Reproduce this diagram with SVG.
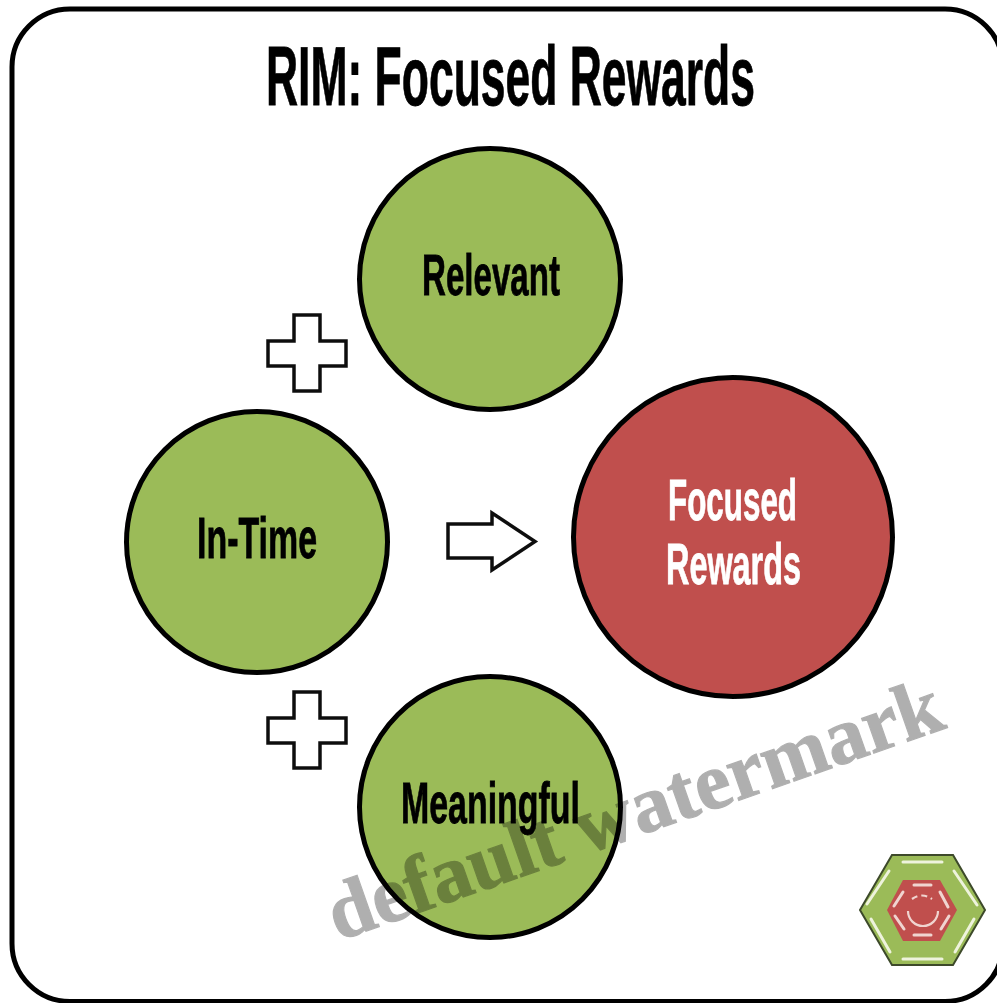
<svg xmlns="http://www.w3.org/2000/svg" width="997" height="1003" viewBox="0 0 997 1003">
<defs>
<filter id="soft" filterUnits="userSpaceOnUse" x="-20" y="-20" width="1040" height="1040"><feGaussianBlur stdDeviation="0.7"/></filter>
</defs>
<style>
.t{font-family:"Liberation Sans",Arial,sans-serif;font-weight:700;fill:#000;stroke:#000;stroke-width:.8}
.w{fill:#fff;stroke:#fff}
.c{stroke:#000;stroke-width:5}
.g{fill:#9bbb59}
.r{fill:#c0504d}
.s{fill:#fff;stroke:#111;stroke-width:3.5}
.l{fill:none;stroke:#eef3dc;stroke-width:3;stroke-linecap:round}
.i{fill:none;stroke:#f0d4d0;stroke-width:3;stroke-linecap:round}
.a{fill:none;stroke:#f0d4d0;stroke-width:2.200}
</style>
<g filter="url(#soft)">
<rect id="frame" x="12" y="9" width="991" height="992.500" rx="58" fill="#fff" stroke="#000" stroke-width="5"/>
<text id="title" class="t" transform="translate(266 105) scale(.5 1)" font-size="84" textLength="978" lengthAdjust="spacingAndGlyphs">RIM: Focused Rewards</text>
<g id="connectors">
<path id="plus-top" class="s" d="M294 315H320V341H346V366H320V391H294V366H268V341H294Z"/>
<path id="plus-bottom" class="s" d="M294 692H320V718H346V743H320V768H294V743H268V718H294Z"/>
<path id="arrow" class="s" d="M448 524H492V513L535 541.500L492 570V558H448Z"/>
</g>
<g id="relevant">
<circle class="c g" cx="490" cy="279" r="130.500"/>
<text class="t" x="422" y="295" font-size="58" textLength="138" lengthAdjust="spacingAndGlyphs">Relevant</text>
</g>
<g id="in-time">
<circle class="c g" cx="257" cy="542" r="130.500"/>
<text class="t" x="197" y="558" font-size="58" textLength="120" lengthAdjust="spacingAndGlyphs">In-Time</text>
</g>
<g id="meaningful">
<circle class="c g" cx="490" cy="807" r="130.500"/>
<text class="t" x="401" y="823" font-size="58" textLength="179" lengthAdjust="spacingAndGlyphs">Meaningful</text>
</g>
<g id="focused-rewards">
<circle class="c r" cx="733" cy="537" r="159.500"/>
<text class="t w" x="668" y="520" font-size="58" textLength="129" lengthAdjust="spacingAndGlyphs">Focused</text>
<text class="t w" x="666" y="584" font-size="58" textLength="135" lengthAdjust="spacingAndGlyphs">Rewards</text>
</g>
<g id="logo">
<path class="g" stroke="#3c4a2a" stroke-width="2" d="M892 855H953L985 910L953 965H892L860 910Z"/>
<path class="r" d="M903 880H940L957 910L940 941H903L887 910Z"/>
<path class="l" d="M903 862H942M954 871L977 905M974 919L955 952M942 959H903M890 952L871 919M867 904L889 871"/>
<path class="i" d="M914 885H931M940 892L948 907M949 916L941 929M931 935H914M904 929L895 916M894 906L903 892"/>
<path class="a" d="M908 911A15 15 0 0 0 938 911"/>
<path class="a" stroke-dasharray="6 4" d="M912 899Q922 892 932 899"/>
</g>
</g>
<text id="watermark" x="338" y="941" transform="rotate(-19.300 338 941)" font-family="'Liberation Serif','Times New Roman',serif" font-weight="700" font-size="80.500" fill="#000" stroke="#000" stroke-width="1.200" opacity=".31">default watermark</text>
</svg>
